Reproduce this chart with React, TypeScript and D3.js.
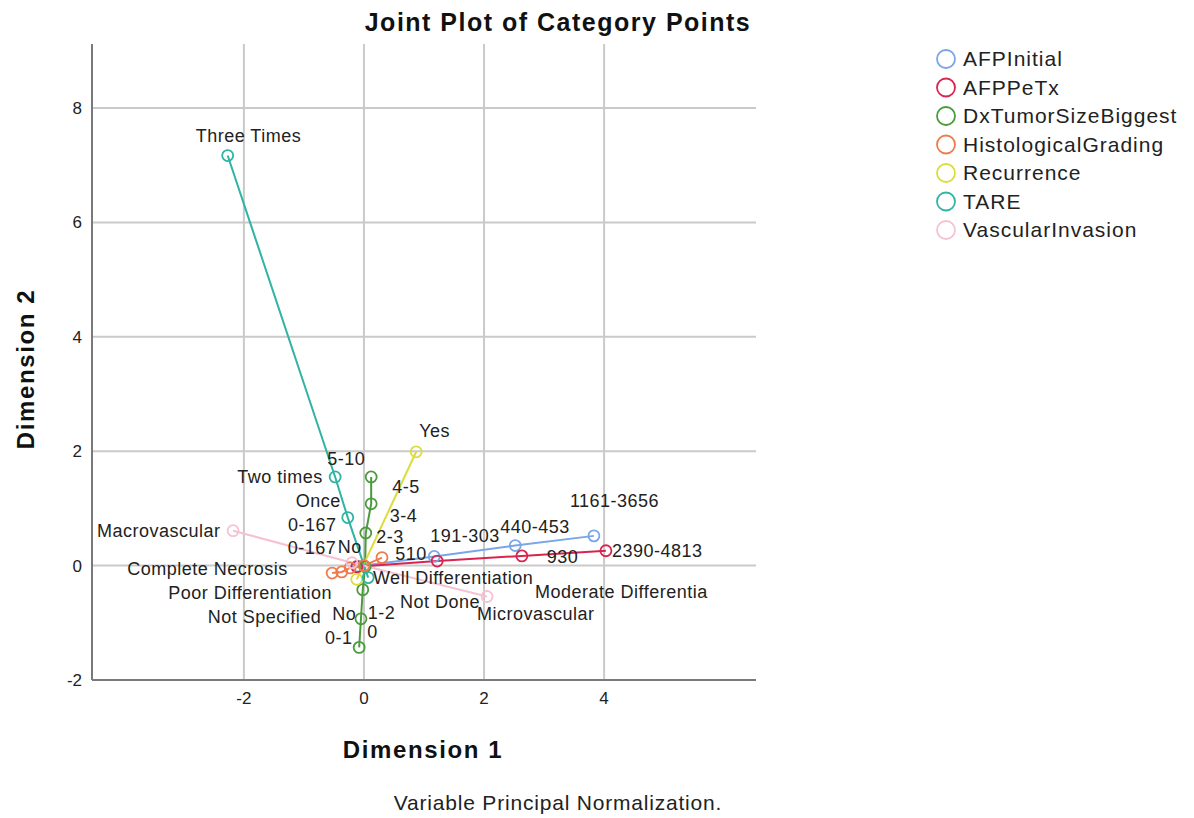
import React from 'react';
import * as d3 from 'd3';

// category points (Dimension 1, Dimension 2)
const afpInitial = [
  { name: '0-167', x: -0.1, y: -0.01 },
  { name: '191-303', x: 1.17, y: 0.16 },
  { name: '440-453', x: 2.52, y: 0.35 },
  { name: '1161-3656', x: 3.83, y: 0.52 },
];
const afpPeTx = [
  { name: '0-167', x: -0.12, y: -0.02 },
  { name: '510', x: 1.22, y: 0.08 },
  { name: '930', x: 2.63, y: 0.17 },
  { name: '2390-4813', x: 4.03, y: 0.26 },
];
const tumorSize = [
  { name: '5-10', x: 0.12, y: 1.55 },
  { name: '4-5', x: 0.12, y: 1.08 },
  { name: '3-4', x: 0.03, y: 0.57 },
  { name: '2-3', x: 0.02, y: -0.02 },
  { name: '1-2', x: -0.02, y: -0.42 },
  { name: '0-1', x: -0.05, y: -0.93 },
  { name: '0', x: -0.08, y: -1.43 },
];
const histGrading = [
  { name: 'Poor Differentiation', x: -0.53, y: -0.13 },
  { name: 'Not Specified', x: -0.37, y: -0.11 },
  { name: 'Complete Necrosis', x: -0.23, y: -0.04 },
  { name: 'Well Differentiation', x: 0.0, y: 0.0 },
  { name: 'Moderate Differentia', x: 0.3, y: 0.14 },
];
const recurrence = [
  { name: 'No', x: -0.12, y: -0.24 },
  { name: 'Yes', x: 0.87, y: 1.99 },
];
const tare = [
  { name: 'Three Times', x: -2.27, y: 7.17 },
  { name: 'Two times', x: -0.48, y: 1.55 },
  { name: 'Once', x: -0.27, y: 0.84 },
  { name: 'No', x: 0.07, y: -0.21 },
];
const vascularInvasion = [
  { name: 'Macrovascular', x: -2.18, y: 0.61 },
  { name: 'Not Done', x: -0.2, y: 0.05 },
  { name: 'Microvascular', x: 2.05, y: -0.54 },
];

const seriesNames = ['AFPInitial', 'AFPPeTx', 'DxTumorSizeBiggest', 'HistologicalGrading', 'Recurrence', 'TARE', 'VascularInvasion'];
const xTicks = [-2, 0, 2, 4];
const yTicks = [-2, 0, 2, 4, 6, 8];

// label placement (pixels from the point, text start / baseline)
const labelNudge: Record<string, number[][]> = {
  AFPInitial: [[-70, -35], [-4, -14], [-15, -13], [-24, -29]],
  AFPPeTx: [[-69, -13], [-42, -1], [25, 7], [6, 6]],
  DxTumorSizeBiggest: [[-44, -12], [21, -11], [24, -11], [11, -24], [5, 29], [-36, 25], [8, -9]],
  HistologicalGrading: [[-164, 26], [-134, 51], [-223, 7], [9, 18], [153, 40]],
  Recurrence: [[-19, -26], [3, -15]],
  TARE: [[-32, -14], [-98, 6], [-52, -11], [-36, 42]],
  VascularInvasion: [[-136, 6], [48, 45], [-10, 24]],
};

const colors = ['#79a6e8', '#d8244f', '#4b9b3d', '#ef7b4c', '#dcdc3a', '#2fb4a4', '#f6c2d3'];

const W = 1194;
const H = 818;

export default function App() {
  const data = [afpInitial, afpPeTx, tumorSize, histGrading, recurrence, tare, vascularInvasion];
  const color = d3.scaleOrdinal<string, string>().domain(seriesNames).range(colors);

  const x = d3.scaleLinear().domain([-4.53, 6.53]).range([92, 756]);
  const y = d3.scaleLinear().domain([-2, 9.12]).range([680, 44]);

  const line = d3
    .line<{ x: number; y: number }>()
    .x((d) => x(d.x))
    .y((d) => y(d.y));

  const font = 'Arial, "Liberation Sans", sans-serif';

  return (
    <svg width={W} height={H} style={{ position: 'absolute', left: 0, top: 0, background: '#fff' }} fontFamily={font}>
      <text x={558} y={31} textAnchor="middle" fontSize={25} fontWeight="bold" letterSpacing={1.5} fill="#111">
        Joint Plot of Category Points
      </text>

      {/* grid */}
      <g stroke="#cacaca" strokeWidth={2}>
        {xTicks.map((t) => (
          <line key={'gx' + t} x1={x(t)} x2={x(t)} y1={y(9.12)} y2={y(-2)} />
        ))}
        {yTicks.map((t) => (
          <line key={'gy' + t} x1={x(-4.53)} x2={x(6.53)} y1={y(t)} y2={y(t)} />
        ))}
      </g>

      {/* axes */}
      <g stroke="#7a7a7a" strokeWidth={2}>
        <line x1={x(-4.53)} x2={x(-4.53)} y1={y(9.12)} y2={y(-2)} />
        <line x1={x(-4.53)} x2={x(6.53)} y1={y(-2)} y2={y(-2)} />
      </g>
      <g fontSize={17} fill="#222">
        {yTicks.map((t) => (
          <text key={'ty' + t} x={82} y={y(t) + 6} textAnchor="end">
            {t}
          </text>
        ))}
        {xTicks.map((t) => (
          <text key={'tx' + t} x={x(t)} y={704} textAnchor="middle">
            {t}
          </text>
        ))}
      </g>

      <text x={423} y={758} textAnchor="middle" fontSize={24} fontWeight="bold" letterSpacing={1.6} fill="#111">
        Dimension 1
      </text>
      <text
        transform={`translate(34,369) rotate(-90)`}
        textAnchor="middle"
        fontSize={24}
        fontWeight="bold"
        letterSpacing={1.6}
        fill="#111"
      >
        Dimension 2
      </text>
      <text x={558} y={810} textAnchor="middle" fontSize={21} letterSpacing={0.8} fill="#222">
        Variable Principal Normalization.
      </text>

      {/* series lines */}
      {data.map((pts, i) => (
        <path key={'l' + i} d={line(pts) || ''} fill="none" stroke={color(seriesNames[i])} strokeWidth={2} />
      ))}
      {/* category points */}
      {data.map((pts, i) =>
        pts.map((p, j) => (
          <circle
            key={`c${i}-${j}`}
            cx={x(p.x)}
            cy={y(p.y)}
            r={5.5}
            fill="none"
            stroke={color(seriesNames[i])}
            strokeWidth={1.8}
          />
        ))
      )}
      {/* labels */}
      <g fontSize={18} letterSpacing={0.5} fill="#222">
        {data.map((pts, i) =>
          pts.map((p, j) => {
            const n = labelNudge[seriesNames[i]][j];
            return (
              <text key={`t${i}-${j}`} x={x(p.x) + n[0]} y={y(p.y) + n[1]}>
                {p.name}
              </text>
            );
          })
        )}
      </g>

      {/* legend */}
      <g>
        {seriesNames.map((s, i) => (
          <g key={s} transform={`translate(946,${59 + i * 28.5})`}>
            <circle r={9} fill="none" stroke={color(s)} strokeWidth={1.8} />
            <text x={17} y={7} fontSize={21} letterSpacing={1} fill="#222">
              {s}
            </text>
          </g>
        ))}
      </g>
    </svg>
  );
}
